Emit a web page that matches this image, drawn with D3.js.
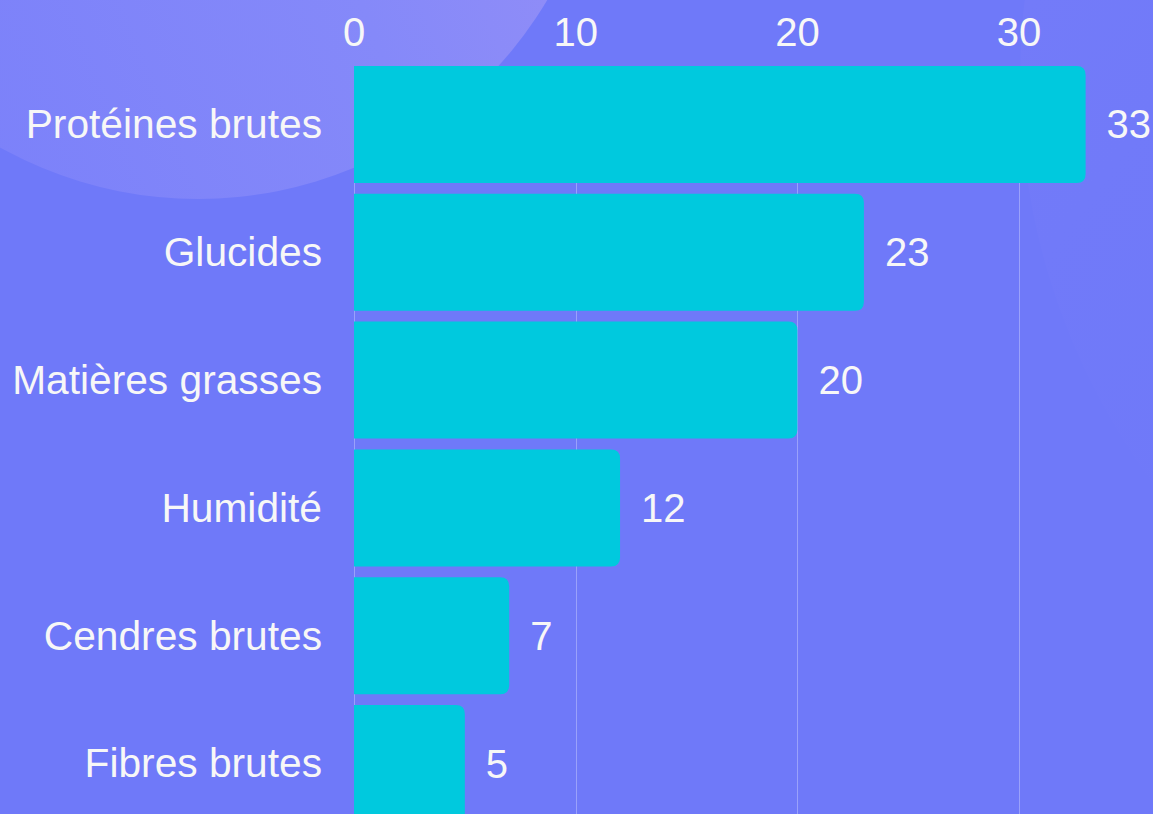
<!DOCTYPE html>
<html>
<head>
<meta charset="utf-8">
<script src="https://cdn.jsdelivr.net/npm/d3@7"></script>
<style>
  html, body { margin: 0; padding: 0; background: #6f79f9; overflow: hidden; }
  svg { display: block; font-family: "Liberation Sans", Arial, sans-serif; }
</style>
</head>
<body>
<svg id="chart"></svg>
<script>
// data
var categories = ["Protéines brutes", "Glucides", "Matières grasses", "Humidité", "Cendres brutes", "Fibres brutes"];
var values = [33, 23, 20, 12, 7, 5];
var tickValues = [0, 10, 20, 30];

var width = 1153, height = 814;

var svg = d3.select("#chart")
    .attr("width", width)
    .attr("height", height);

var defs = svg.append("defs");
var grad = defs.append("linearGradient")
    .attr("id", "blob")
    .attr("x1", "0%").attr("y1", "60%")
    .attr("x2", "100%").attr("y2", "20%");
grad.append("stop").attr("offset", "0%").attr("stop-color", "#7a80fa");
grad.append("stop").attr("offset", "55%").attr("stop-color", "#8589f9");
grad.append("stop").attr("offset", "100%").attr("stop-color", "#9a90f6");

var grad2 = defs.append("linearGradient")
    .attr("id", "bgRight")
    .attr("x1", "0%").attr("y1", "30%")
    .attr("x2", "40%").attr("y2", "60%");
grad2.append("stop").attr("offset", "0%").attr("stop-color", "#7b7ff9").attr("stop-opacity", 0.5);
grad2.append("stop").attr("offset", "100%").attr("stop-color", "#6f79f9").attr("stop-opacity", 0);

// background
svg.append("rect")
    .attr("width", width)
    .attr("height", height)
    .attr("fill", "#6f79f9");

svg.append("circle")
    .attr("cx", 1700).attr("cy", 80).attr("r", 680)
    .attr("fill", "url(#bgRight)");

svg.append("circle")
    .attr("cx", 198).attr("cy", -207).attr("r", 406)
    .attr("fill", "url(#blob)");

// scales
var x = d3.scaleLinear()
    .domain([0, 35])
    .range([354, 354 + 35 * 22.17]);

var y = d3.scaleBand()
    .domain(categories)
    .range([66, 822])
    .paddingInner(0.085)
    .paddingOuter(0);

// grid lines
svg.append("g")
    .selectAll("line")
    .data(tickValues)
    .enter()
    .append("line")
    .attr("x1", function (d) { return Math.round(x(d)) + 0.5; })
    .attr("x2", function (d) { return Math.round(x(d)) + 0.5; })
    .attr("y1", 66)
    .attr("y2", height)
    .attr("stroke", "rgba(255,255,255,0.3)")
    .attr("stroke-width", 1);

// top axis tick labels
svg.append("g")
    .selectAll("text")
    .data(tickValues)
    .enter()
    .append("text")
    .attr("x", function (d) { return x(d); })
    .attr("y", 46)
    .attr("text-anchor", "middle")
    .attr("fill", "#f7f7f7")
    .style("font-size", "40px")
    .text(function (d) { return d; });

// bars with rounded right corners
function barPath(x0, y0, w, h, r) {
    r = Math.min(r, w);
    return "M" + x0 + "," + y0 +
        "H" + (x0 + w - r) +
        "Q" + (x0 + w) + "," + y0 + " " + (x0 + w) + "," + (y0 + r) +
        "V" + (y0 + h - r) +
        "Q" + (x0 + w) + "," + (y0 + h) + " " + (x0 + w - r) + "," + (y0 + h) +
        "H" + x0 + "Z";
}

var rows = categories.map(function (c, i) { return { cat: c, val: values[i] }; });

svg.append("g")
    .selectAll("path")
    .data(rows)
    .enter()
    .append("path")
    .attr("d", function (d) {
        return barPath(x(0), y(d.cat), x(d.val) - x(0), y.bandwidth(), 9);
    })
    .attr("fill", "#00c9de");

// category labels
svg.append("g")
    .selectAll("text")
    .data(rows)
    .enter()
    .append("text")
    .attr("x", x(0) - 32)
    .attr("y", function (d) { return y(d.cat) + y.bandwidth() / 2; })
    .attr("dy", "0.34em")
    .attr("text-anchor", "end")
    .attr("fill", "#f7f7f7")
    .style("font-size", "40.7px")
    .text(function (d) { return d.cat; });

// value labels
svg.append("g")
    .selectAll("text")
    .data(rows)
    .enter()
    .append("text")
    .attr("x", function (d) { return x(d.val) + 21; })
    .attr("y", function (d) { return y(d.cat) + y.bandwidth() / 2; })
    .attr("dy", "0.35em")
    .attr("fill", "#f7f7f7")
    .style("font-size", "40px")
    .text(function (d) { return d.val; });
</script>
</body>
</html>
